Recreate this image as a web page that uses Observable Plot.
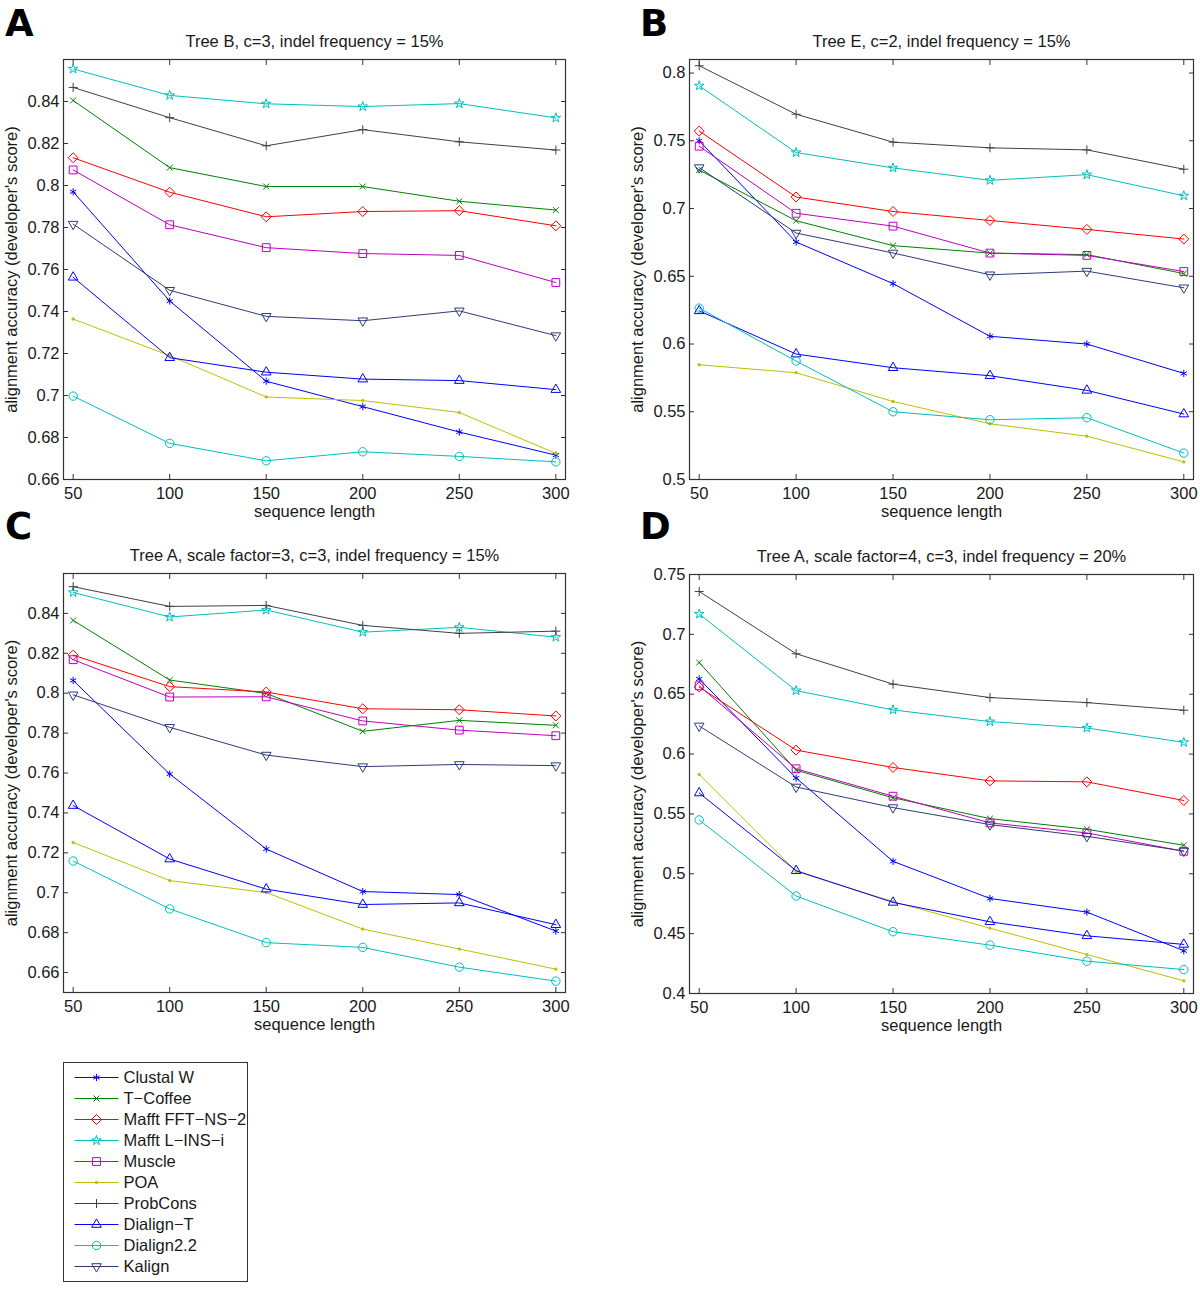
<!DOCTYPE html>
<html><head><meta charset="utf-8">
<script src="https://cdn.jsdelivr.net/npm/d3@7"></script>
<script src="https://cdn.jsdelivr.net/npm/@observablehq/plot@0.6"></script>
<style>
body{margin:0;background:#fff;}
#root{position:relative;width:1200px;height:1290px;font-family:"Liberation Sans",Arial,sans-serif;color:#1a1a1a;}
.panel{position:absolute;}
.panel svg{overflow:visible;}
.letter{position:absolute;font-family:"DejaVu Sans",sans-serif;font-weight:bold;font-size:37px;line-height:1;color:#000;}
#legend{position:absolute;left:63px;top:1062px;border:1px solid #333;background:#fff;}
#legend svg{overflow:visible;display:block;}
</style></head><body><div id="root"></div>
<script>
const lengths = [50, 100, 150, 200, 250, 300];
const methods = ["Clustal W", "T\u2212Coffee", "Mafft FFT\u2212NS\u22122", "Mafft L\u2212INS\u2212i", "Muscle", "POA", "ProbCons", "Dialign\u2212T", "Dialign2.2", "Kalign"];
const colors = ["#0000ff", "#008000", "#ff0000", "#00bfbf", "#bf00bf", "#bfbf00", "#404040", "#0000ff", "#00bfbf", "#2f3b78"];
const symbols = ["asterisk", "times", "diamond2", "star", "square", "circle", "plus", "triangle2", "circle", "triangle2"];
const radii = [3.4, 2.8, 4.5, 3.0, 4.4, 1.2, 3.0, 4.6, 4.2, 4.6];
const rotations = [0, 0, 0, 0, 0, 0, 0, 0, 0, 180];
const filled = [false, false, false, false, false, true, false, false, false, false];

const titles = ["Tree B, c=3, indel frequency = 15%", "Tree E, c=2, indel frequency = 15%", "Tree A, scale factor=3, c=3, indel frequency = 15%", "Tree A, scale factor=4, c=3, indel frequency = 20%"];
const yTicksA = [0.66, 0.68, 0.70, 0.72, 0.74, 0.76, 0.78, 0.80, 0.82, 0.84];
const yTicksB = [0.5, 0.55, 0.6, 0.65, 0.7, 0.75, 0.8];
const yTicksC = [0.66, 0.68, 0.70, 0.72, 0.74, 0.76, 0.78, 0.80, 0.82, 0.84];
const yTicksD = [0.4, 0.45, 0.5, 0.55, 0.6, 0.65, 0.7, 0.75];

// rows follow the order of `methods`; columns follow `lengths`
const panelA = [
  [0.7970, 0.7450, 0.7068, 0.6947, 0.6826, 0.6716],
  [0.8405, 0.8085, 0.7995, 0.7995, 0.7925, 0.7883],
  [0.8132, 0.7968, 0.7851, 0.7876, 0.7880, 0.7808],
  [0.8555, 0.8429, 0.8389, 0.8376, 0.8390, 0.8322],
  [0.8074, 0.7813, 0.7704, 0.7676, 0.7667, 0.7538],
  [0.7364, 0.7190, 0.6993, 0.6976, 0.6919, 0.6724],
  [0.8467, 0.8323, 0.8189, 0.8266, 0.8208, 0.8169],
  [0.7563, 0.7180, 0.7111, 0.7078, 0.7071, 0.7028],
  [0.6997, 0.6772, 0.6689, 0.6732, 0.6710, 0.6684],
  [0.7816, 0.7501, 0.7377, 0.7356, 0.7403, 0.7285]
];
const panelB = [
  [0.7500, 0.6753, 0.6446, 0.6057, 0.6000, 0.5783],
  [0.7284, 0.6910, 0.6726, 0.6671, 0.6660, 0.6520],
  [0.7572, 0.7085, 0.6978, 0.6912, 0.6846, 0.6775],
  [0.7906, 0.7413, 0.7300, 0.7208, 0.7250, 0.7094],
  [0.7460, 0.6965, 0.6870, 0.6671, 0.6654, 0.6535],
  [0.5847, 0.5788, 0.5576, 0.5411, 0.5320, 0.5130],
  [0.8054, 0.7696, 0.7490, 0.7448, 0.7433, 0.7290],
  [0.6245, 0.5926, 0.5825, 0.5766, 0.5658, 0.5483],
  [0.6265, 0.5874, 0.5500, 0.5441, 0.5456, 0.5195],
  [0.7302, 0.6819, 0.6672, 0.6511, 0.6538, 0.6415]
];
const panelC = [
  [0.8064, 0.7595, 0.7219, 0.7006, 0.6991, 0.6808],
  [0.8365, 0.8066, 0.7999, 0.7809, 0.7864, 0.7839],
  [0.8191, 0.8033, 0.8006, 0.7922, 0.7917, 0.7886],
  [0.8505, 0.8382, 0.8417, 0.8306, 0.8330, 0.8281],
  [0.8168, 0.7981, 0.7982, 0.7861, 0.7815, 0.7787],
  [0.7252, 0.7061, 0.7001, 0.6818, 0.6718, 0.6617],
  [0.8534, 0.8435, 0.8440, 0.8340, 0.8300, 0.8311],
  [0.7437, 0.7169, 0.7018, 0.6941, 0.6949, 0.6840],
  [0.7159, 0.6919, 0.6750, 0.6726, 0.6627, 0.6557],
  [0.7992, 0.7829, 0.7690, 0.7632, 0.7643, 0.7637]
];
const panelD = [
  [0.6628, 0.5800, 0.5104, 0.4794, 0.4680, 0.4357],
  [0.6765, 0.5865, 0.5635, 0.5461, 0.5372, 0.5238],
  [0.6560, 0.6033, 0.5888, 0.5776, 0.5768, 0.5612],
  [0.7170, 0.6530, 0.6369, 0.6271, 0.6218, 0.6098],
  [0.6570, 0.5877, 0.5648, 0.5425, 0.5341, 0.5188],
  [0.5830, 0.5020, 0.4767, 0.4546, 0.4326, 0.4106],
  [0.7358, 0.6838, 0.6584, 0.6472, 0.6430, 0.6366],
  [0.5675, 0.5026, 0.4761, 0.4599, 0.4482, 0.4410],
  [0.5450, 0.4814, 0.4516, 0.4404, 0.4270, 0.4200],
  [0.6235, 0.5725, 0.5553, 0.5411, 0.5313, 0.5190]
];

const FONT = '"Liberation Sans", Arial, sans-serif';
const fmt = d => String(+d.toFixed(2));
const AXC = "#333";

function makePanel(values, title, yDomain, yTicks, m) {
  const series = methods.map((name, i) => values[i].map((v, j) => ({name, len: lengths[j], v})));
  const marks = [
    Plot.axisX({anchor: "bottom", ticks: lengths, tickSize: 0, tickPadding: 8, fontSize: 16.5,
      label: "sequence length", labelAnchor: "center", labelArrow: "none", labelOffset: 37}),
    Plot.axisX({anchor: "bottom", ticks: lengths, tickSize: 5, dy: -5, tickFormat: () => "", label: null, stroke: AXC}),
    Plot.axisX({anchor: "top", ticks: lengths, tickSize: 5, dy: 5, tickFormat: () => "", label: null, stroke: AXC}),
    Plot.axisY({anchor: "left", ticks: yTicks, tickSize: 0, tickPadding: 4, tickFormat: fmt, fontSize: 16.5,
      label: "alignment accuracy (developer's score)", labelAnchor: "center", labelArrow: "none", labelOffset: 58}),
    Plot.axisY({anchor: "left", ticks: yTicks, tickSize: 5, dx: 5, tickFormat: () => "", label: null, stroke: AXC}),
    Plot.axisY({anchor: "right", ticks: yTicks, tickSize: 5, dx: -5, tickFormat: () => "", label: null, stroke: AXC}),
    Plot.frame({stroke: AXC, strokeWidth: 1.2})
  ];
  series.forEach((s, i) => {
    marks.push(Plot.line(s, {x: "len", y: "v", stroke: colors[i], strokeWidth: 1}));
    marks.push(Plot.dot(s, {x: "len", y: "v", symbol: symbols[i], r: radii[i], rotate: rotations[i],
      stroke: colors[i], fill: filled[i] ? colors[i] : "none", strokeWidth: 1}));
  });
  marks.push(Plot.text([title], {frameAnchor: "top", dy: -24, fontSize: 16.5, fill: "#1a1a1a"}));
  return Plot.plot({
    width: m.w, height: m.h,
    marginLeft: m.l, marginRight: m.r, marginTop: m.t, marginBottom: m.b,
    style: {fontFamily: FONT, fontSize: "16.5px", overflow: "visible", background: "transparent", color: "#1a1a1a"},
    x: {domain: [45, 305]},
    y: {domain: yDomain},
    marks
  });
}

const root = document.getElementById("root");
function place(el, left, top) {
  const d = document.createElement("div");
  d.className = "panel";
  d.style.left = left + "px";
  d.style.top = top + "px";
  d.appendChild(el);
  root.appendChild(d);
}
place(makePanel(panelA, titles[0], [0.66, 0.86], yTicksA, {w: 600, h: 530, l: 63, r: 35, t: 59, b: 51}), 0, 0);
place(makePanel(panelB, titles[1], [0.5, 0.81], yTicksB, {w: 600, h: 530, l: 89, r: 7, t: 59, b: 51}), 600, 0);
place(makePanel(panelC, titles[2], [0.65, 0.86], yTicksC, {w: 600, h: 520, l: 63, r: 35, t: 53, b: 48}), 0, 520);
place(makePanel(panelD, titles[3], [0.4, 0.75], yTicksD, {w: 600, h: 520, l: 89, r: 7, t: 54, b: 47}), 600, 520);

[["A", 5, 5], ["B", 640, 5], ["C", 5, 508], ["D", 640, 508]].forEach(([t, x, y]) => {
  const d = document.createElement("div");
  d.className = "letter";
  d.textContent = t;
  d.style.left = x + "px";
  d.style.top = y + "px";
  root.appendChild(d);
});

// legend: one row per method, line + marker + name
const legendRows = methods.map((name, i) => ({name, i}));
const legMarks = [];
legendRows.forEach(row => {
  legMarks.push(Plot.link([row], {x1: () => 0, x2: () => 1, y1: "name", y2: "name",
    stroke: colors[row.i], strokeWidth: 1.2}));
  legMarks.push(Plot.dot([row], {y: "name", x: () => 0.5, symbol: symbols[row.i], r: radii[row.i], rotate: rotations[row.i],
    stroke: colors[row.i], fill: filled[row.i] ? colors[row.i] : "none", strokeWidth: 1}));
});
legMarks.push(Plot.text(legendRows, {y: "name", x: () => 1, dx: 5, text: "name", textAnchor: "start", fontSize: 16.5, fill: "#1a1a1a"}));
const legend = Plot.plot({
  width: 183, height: 218,
  marginLeft: 10, marginRight: 129, marginTop: 12, marginBottom: 12.5,
  style: {fontFamily: FONT, fontSize: "16.5px", overflow: "visible", background: "transparent"},
  x: {domain: [0, 1], axis: null},
  y: {type: "point", domain: methods, padding: 0, axis: null},
  marks: legMarks
});
const lg = document.createElement("div");
lg.id = "legend";
lg.appendChild(legend);
root.appendChild(lg);
</script>
</body></html>
